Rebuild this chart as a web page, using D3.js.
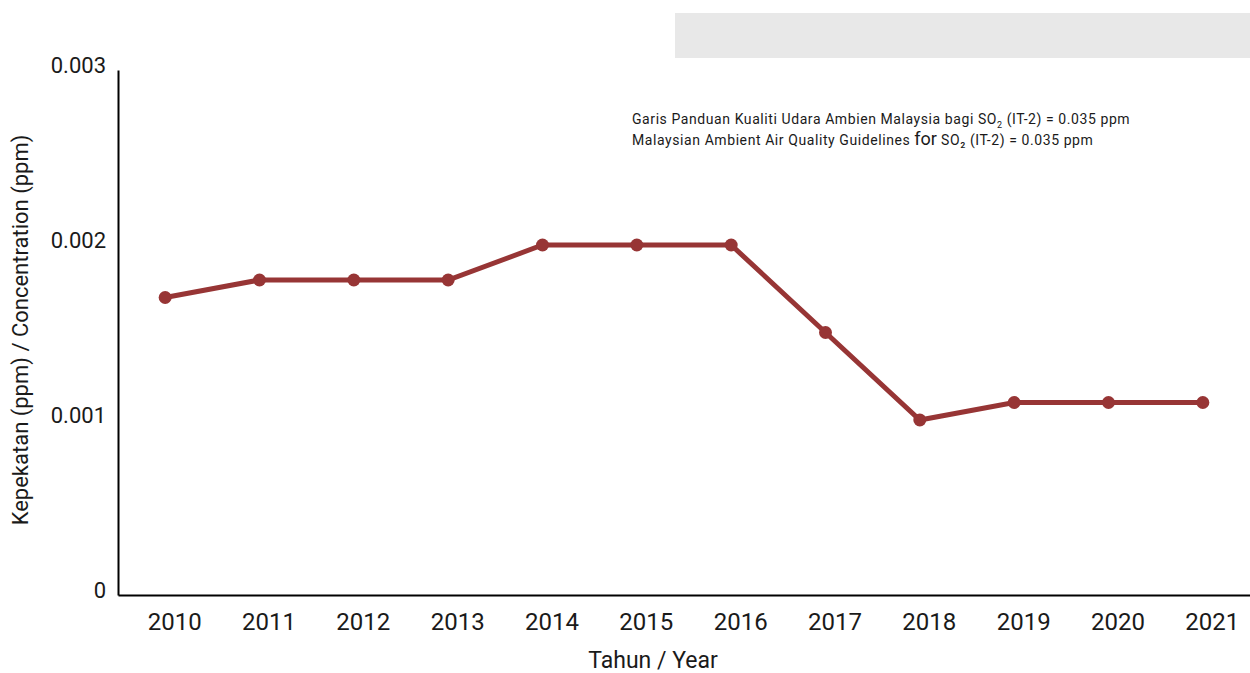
<!DOCTYPE html>
<html>
<head>
<meta charset="utf-8">
<script src="https://cdn.jsdelivr.net/npm/d3@7"></script>
<style>
  body { margin: 0; background: #fff; }
  svg text { font-family: Roboto, "DejaVu Sans", sans-serif; fill: #1a1a1a; }
</style>
</head>
<body>
<div id="chart"></div>
<script>
// data
const years = ["2010","2011","2012","2013","2014","2015","2016","2017","2018","2019","2020","2021"];
const so2 = [0.0017, 0.0018, 0.0018, 0.0018, 0.002, 0.002, 0.002, 0.0015, 0.001, 0.0011, 0.0011, 0.0011];
const yTicks = [0, 0.001, 0.002, 0.003];
const yTickLabels = ["0", "0.001", "0.002", "0.003"];

const W = 1250, H = 673;
const mLeft = 118, mRight = 1250, mTop = 70, mBottom = 595;

const svg = d3.select("#chart").append("svg")
  .attr("width", W).attr("height", H);

// grey box top right
svg.append("rect")
  .attr("x", 675).attr("y", 13).attr("width", 575).attr("height", 45)
  .attr("fill", "#e8e8e8");

const x = d3.scalePoint().domain(years).range([mLeft, mRight]).padding(0.5);
const y = d3.scaleLinear().domain([0, 0.003]).range([mBottom, mTop]);

// axes
const yAxis = svg.append("g")
  .attr("transform", `translate(${mLeft},0)`)
  .call(d3.axisLeft(y).tickValues(yTicks).tickSize(0).tickPadding(12)
    .tickFormat((d, i) => yTickLabels[i]));
yAxis.select(".domain").attr("stroke", "#000").attr("stroke-width", 2);
yAxis.selectAll("text").attr("font-size", 22).attr("dy", "0.1em");

const xAxis = svg.append("g")
  .attr("transform", `translate(0,${mBottom})`)
  .call(d3.axisBottom(x).tickSize(0).tickPadding(13));
xAxis.select(".domain").attr("stroke", "#000").attr("stroke-width", 2);
xAxis.selectAll("text").attr("font-size", 24).attr("dx", 9).attr("dy", "0.9em");

// axis titles
svg.append("text")
  .attr("x", 653).attr("y", 668)
  .attr("text-anchor", "middle").attr("font-size", 23)
  .text("Tahun / Year");

svg.append("text")
  .attr("transform", "translate(28,330) rotate(-90)")
  .attr("text-anchor", "middle").attr("font-size", 22)
  .text("Kepekatan (ppm) / Concentration (ppm)");

// line + points
const line = d3.line().x((d, i) => x(years[i])).y(d => y(d));
svg.append("path")
  .datum(so2)
  .attr("d", line)
  .attr("fill", "none")
  .attr("stroke", "#973535")
  .attr("stroke-width", 5);

svg.selectAll("circle.pt").data(so2).enter().append("circle")
  .attr("class", "pt")
  .attr("cx", (d, i) => x(years[i]))
  .attr("cy", d => y(d))
  .attr("r", 6.5)
  .attr("fill", "#973535");

// guideline note
const note = svg.append("g").attr("font-size", 14).attr("letter-spacing", 0.58);
const t1 = note.append("text").attr("x", 632).attr("y", 124);
t1.append("tspan").text("Garis Panduan Kualiti Udara Ambien Malaysia bagi SO");
t1.append("tspan").attr("font-size", 9).attr("dy", 4).text("2");
t1.append("tspan").attr("dy", -4).text(" (IT-2) = 0.035 ppm");

const t2 = note.append("text").attr("x", 632).attr("y", 145);
t2.append("tspan").text("Malaysian Ambient Air Quality Guidelines ");
t2.append("tspan").attr("font-size", 18).attr("letter-spacing", 0).text("for");
t2.append("tspan").text(" SO\u2082 (IT-2) = 0.035 ppm");
</script>
</body>
</html>
